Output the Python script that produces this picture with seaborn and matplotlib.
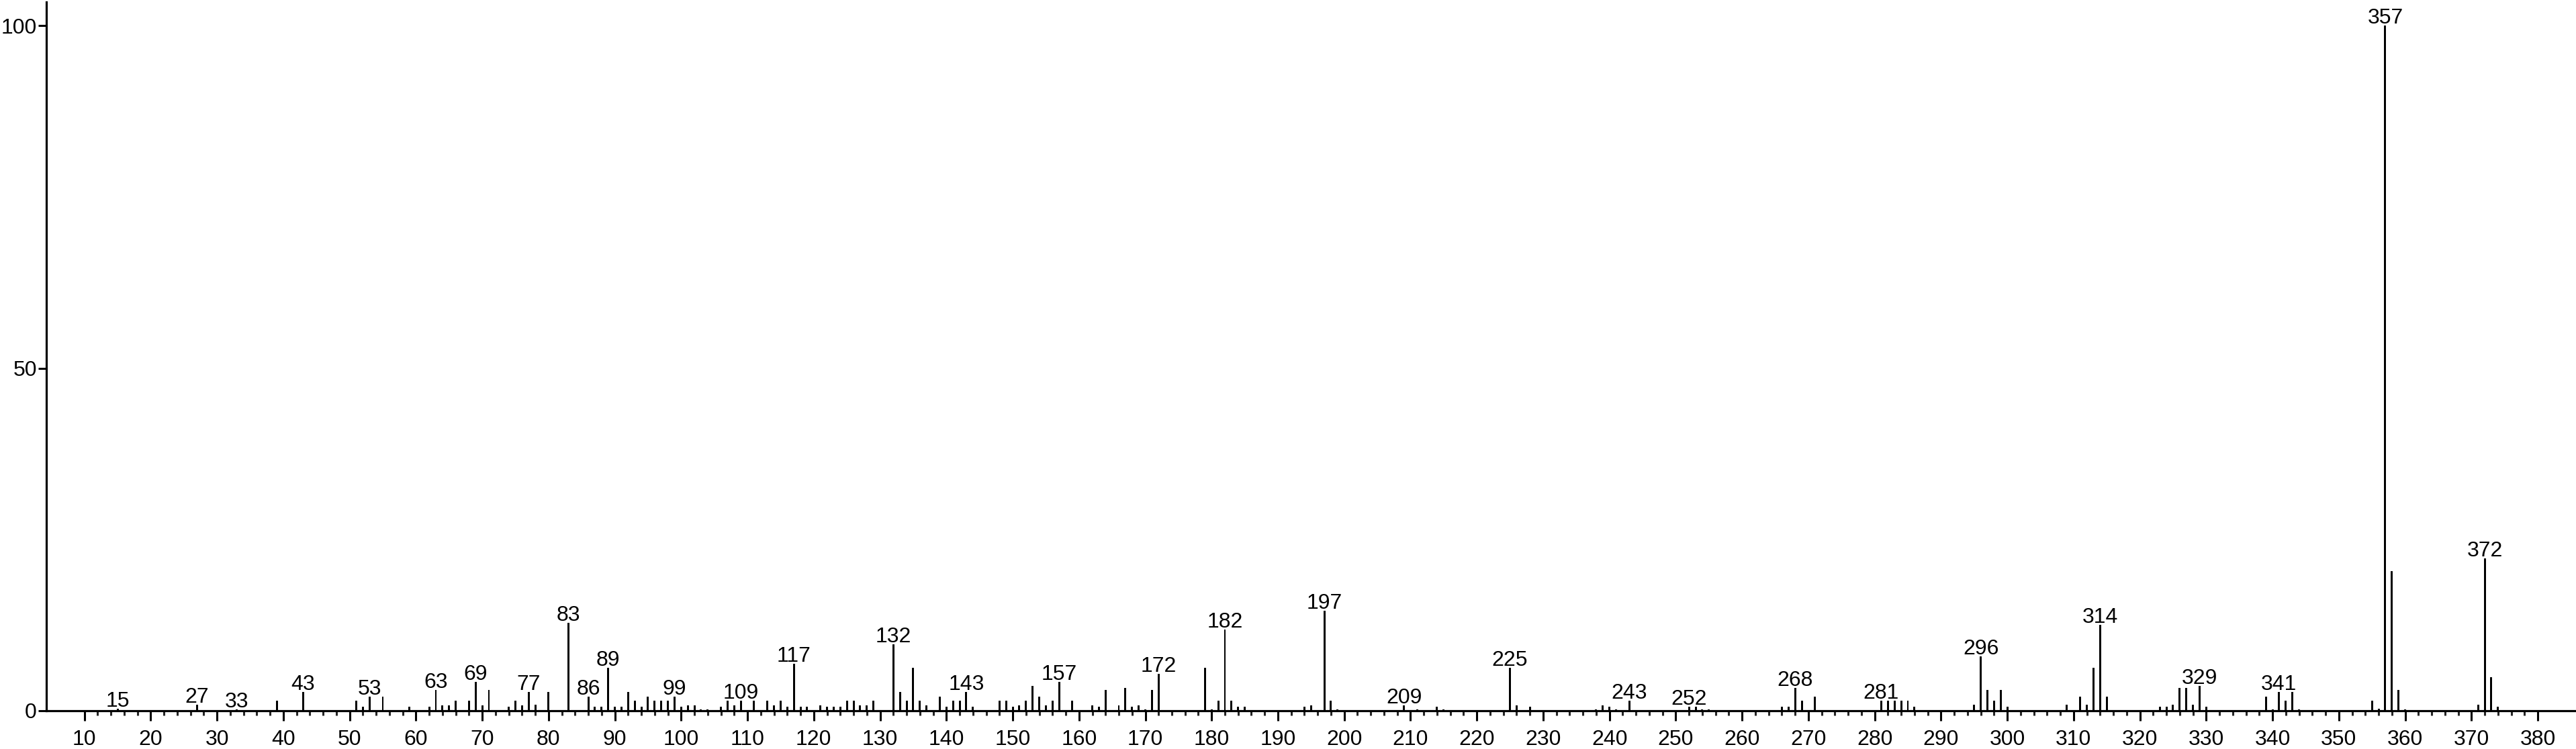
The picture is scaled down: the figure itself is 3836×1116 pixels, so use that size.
import numpy as np
import pandas as pd
import matplotlib
matplotlib.use("Agg")
import matplotlib.pyplot as plt
from matplotlib.ticker import FixedLocator
import seaborn as sns

# ---- data (m/z, relative intensity %) ----
mz = [15, 27, 33, 39, 43, 51, 52, 53, 55, 59, 62, 63, 64, 65, 66, 68,
      69, 70, 71, 74, 75, 76, 77, 78, 80, 83, 86, 87, 88, 89, 90, 91, 92, 93, 94,
      95, 96, 97, 98, 99, 100, 101, 102, 103, 104, 106, 107, 108, 109, 111, 113,
      114, 115, 116, 117, 118, 119, 121, 122, 123, 124, 125, 126, 127, 128, 129,
      132, 133, 134, 135, 136, 137, 139, 140, 141, 142, 143, 144, 148, 149, 150,
      151, 152, 153, 154, 155, 156, 157, 159, 162, 163, 164, 166, 167, 168, 169,
      170, 171, 172, 179, 180, 181, 182, 183, 184, 185, 194, 195, 197, 198, 199,
      209, 211, 214, 215, 225, 226, 228, 238, 239, 240, 241, 243, 252, 253, 254,
      255, 266, 267, 268, 269, 271, 281, 282, 283, 284, 285, 286, 295, 296, 297,
      298, 299, 300, 309, 311, 312, 313, 314, 315, 323, 324, 325, 326, 327, 328,
      329, 330, 339, 340, 341, 342, 343, 344, 355, 356, 357, 358, 359, 360, 371,
      372, 373, 374]
intensity = [0.25, 0.9, 0.2, 1.5, 2.7, 1.5, 0.55, 2.1, 2.1, 0.55, 0.55, 3.0, 0.8, 0.8, 1.5, 1.5,
             4.2, 0.8, 3.0, 0.55, 1.5, 0.8, 2.7, 0.9, 2.7, 12.8, 2.1, 0.55, 0.55, 6.3, 0.55, 0.55, 2.7, 1.5, 0.55,
             2.1, 1.5, 1.5, 1.5, 2.1, 0.55, 0.8, 0.8, 0.2, 0.2, 0.55, 1.5, 0.8, 1.5, 1.5, 1.5,
             0.8, 1.5, 0.55, 6.9, 0.55, 0.55, 0.8, 0.55, 0.55, 0.55, 1.5, 1.5, 0.8, 0.8, 1.5,
             9.7, 2.7, 1.5, 6.3, 1.5, 0.8, 2.1, 0.55, 1.5, 1.5, 2.7, 0.55, 1.5, 1.5, 0.55,
             0.8, 1.5, 3.6, 2.1, 0.8, 1.5, 4.2, 1.5, 0.8, 0.55, 3.0, 0.8, 3.3, 0.55, 0.8,
             0.2, 3.0, 5.4, 6.3, 0.2, 1.5, 11.9, 1.5, 0.55, 0.55, 0.55, 0.8, 14.6, 1.5, 0.2,
             0.8, 0.2, 0.55, 0.2, 6.3, 0.8, 0.55, 0.2, 0.8, 0.55, 0.2, 1.5, 0.55, 0.55, 0.2,
             0.2, 0.55, 0.55, 3.3, 1.5, 2.1, 1.5, 1.5, 1.5, 1.5, 1.5, 0.55, 0.9, 7.9, 3.0,
             1.5, 3.0, 0.55, 0.9, 2.1, 0.9, 6.3, 12.5, 2.1, 0.55, 0.55, 0.9, 3.3, 3.3, 0.9,
             3.6, 0.55, 2.1, 0.2, 2.7, 1.5, 2.7, 0.2, 1.5, 0.25, 100.0, 20.4, 3.0, 0.2, 0.9,
             22.2, 4.9, 0.55]
labeled_peaks = [15, 27, 33, 43, 53, 63, 69, 77, 83, 86, 89, 99, 109, 117, 132, 143,
                 157, 172, 182, 197, 209, 225, 243, 252, 268, 281, 296, 314, 329, 341,
                 357, 372]
x_major_ticks = list(range(10, 381, 10))
y_ticks = [0, 50, 100]

df = pd.DataFrame({"mz": mz, "intensity": intensity})

sns.set_theme(style="ticks")
plt.rcParams["font.family"] = ["Liberation Sans", "DejaVu Sans"]

W, H = 3836, 1116
fig = plt.figure(figsize=(W / 100, H / 100), dpi=100)
ax = fig.add_axes([69 / W, 57 / H, 1 - 69 / W, 1056 / H])

sns.barplot(data=df, x="mz", y="intensity", native_scale=True, orient="x",
            width=0.3, color="black", errorbar=None, linewidth=0,
            saturation=1, ax=ax)

ax.set_xlim(4.26, 385.77)
ax.set_ylim(0, 103.43)

for spine in ["top", "right"]:
    ax.spines[spine].set_visible(False)
for spine in ["left", "bottom"]:
    ax.spines[spine].set_linewidth(2.3)
    ax.spines[spine].set_color("black")

ax.xaxis.set_major_locator(FixedLocator(x_major_ticks))
ax.set_xticklabels([str(t) for t in x_major_ticks])
minor = [t for t in range(12, 380, 2) if t % 10 != 0]
ax.xaxis.set_minor_locator(FixedLocator(minor))
ax.set_yticks(y_ticks)
ax.set_yticklabels([str(t) for t in y_ticks])

ax.tick_params(axis="x", which="major", direction="out", length=10.8, width=2.2,
               pad=9, labelsize=23, colors="black")
ax.tick_params(axis="x", which="minor", direction="out", length=5, width=2.2)
ax.tick_params(axis="y", which="major", direction="out", length=8.6, width=2.2,
               pad=1.5, labelsize=23, colors="black")

ax.set_xlabel("")
ax.set_ylabel("")
ax.grid(False)

lookup = dict(zip(mz, intensity))
for p in labeled_peaks:
    ax.annotate(str(p), xy=(p, lookup[p]), xytext=(0, 3), textcoords="offset pixels",
                ha="center", va="baseline", fontsize=23, color="black",
                annotation_clip=False)

fig.savefig("out.png", dpi=100, facecolor="white")
